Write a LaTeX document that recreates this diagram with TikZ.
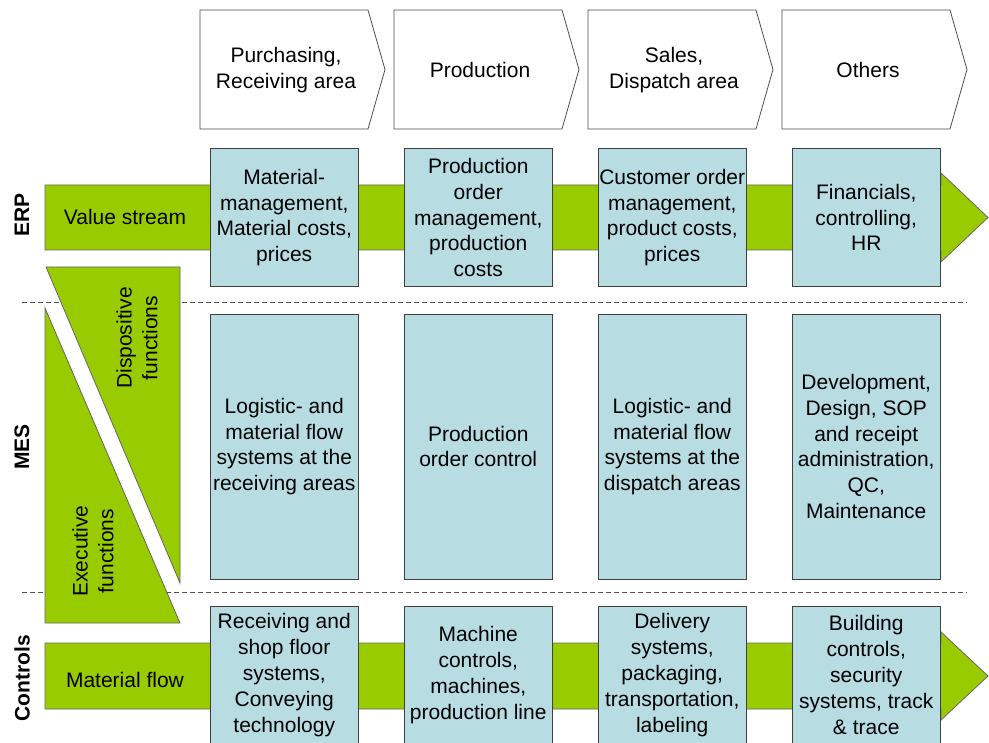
\documentclass[tikz,border=0pt]{standalone}
\usepackage{fontspec}
\setmainfont{Liberation Sans}
\definecolor{leafgreen}{RGB}{153,204,0}
\definecolor{boxblue}{RGB}{183,221,227}

\begin{document}
\begin{tikzpicture}[x=1pt,y=-1pt,
          txt/.style={font=\fontsize{21}{25.8}\selectfont,align=center,inner sep=0},
          cell/.style={txt,draw=black!75,fill=boxblue,line width=0.8pt,minimum width=147.5,minimum height=#1},
          flow/.style={fill=leafgreen,draw=black!60,line width=0.8pt},
          sep/.style={black!70,dash pattern=on 5pt off 3pt,line width=0.8pt},
          tag/.style={font=\fontsize{21}{25}\selectfont\bfseries,rotate=90,inner sep=0}]
          \useasboundingbox (0,0) rectangle (989,743);
          \draw[sep] (22,302) -- (967,302);
          \draw[sep] (22,592) -- (967,592);
          \draw[flow] (45,185) -- (941,185) -- (941,173) -- (988,217.5) -- (941,262) -- (941,250) -- (45,250) -- cycle;
          \draw[flow] (45,643) -- (941,643) -- (941,632) -- (988,676) -- (941,720) -- (941,709) -- (45,709) -- cycle;
          \draw[flow] (46,267) -- (180,267) -- (180,583) -- cycle;
          \draw[flow] (45,308) -- (180,623) -- (45,623) -- cycle;
          \node[txt] (value) at (125,217) {Value stream};
          \node[txt] (matflow) at (125,680) {Material flow};
          \node[txt,rotate=90] (dispo) at (137,338) {Dispositive\\functions};
          \node[txt,rotate=90] (exec) at (93,551) {Executive\\functions};
          \node[tag] (erp) at (22,215) {ERP};
          \node[tag] (mes) at (22,447) {MES};
          \node[tag] (ctrl) at (22,678) {Controls};
          \foreach \n/\t [count=\i from 0] in {purch/{Purchasing,\\Receiving area},prod/Production,sales/{Sales,\\Dispatch area},other/Others}{
            \draw[draw=black!70,line width=0.8pt,fill=white] (200+194*\i,10) -- ++(168,0) -- ++(17,59.5) -- ++(-17,59.5) -- ++(-168,0) -- cycle;
            \node[txt] (\n) at (286+194*\i,70) {\t};
          }
          \foreach \t [count=\i from 0] in {{Material-\\management,\\Material costs,\\prices},{Production\\order\\management,\\production\\costs},{Customer order\\management,\\product costs,\\prices},{Financials,\\controlling,\\HR}}{
            \node[cell=138] (erp\i) at (284.25+194*\i,217.5) {\t};
          }
          \foreach \t [count=\i from 0] in {{Logistic- and\\material flow\\systems at the\\receiving areas},{Production\\order control},{Logistic- and\\material flow\\systems at the\\dispatch areas},{Development,\\Design, SOP\\and receipt\\administration,\\QC,\\Maintenance}}{
            \node[cell=265] (mes\i) at (284.25+194*\i,446.5) {\t};
          }
          \foreach \t [count=\i from 0] in {{Receiving and\\shop floor\\systems,\\Conveying\\technology},{Machine\\controls,\\machines,\\production line},{Delivery\\systems,\\packaging,\\transportation,\\labeling},{Building\\controls,\\security\\systems, track\\\& trace}}{
            \node[cell=138] (ctl\i) at (284.25+194*\i,675) {\t};
          }
        \end{tikzpicture}
\end{document}
